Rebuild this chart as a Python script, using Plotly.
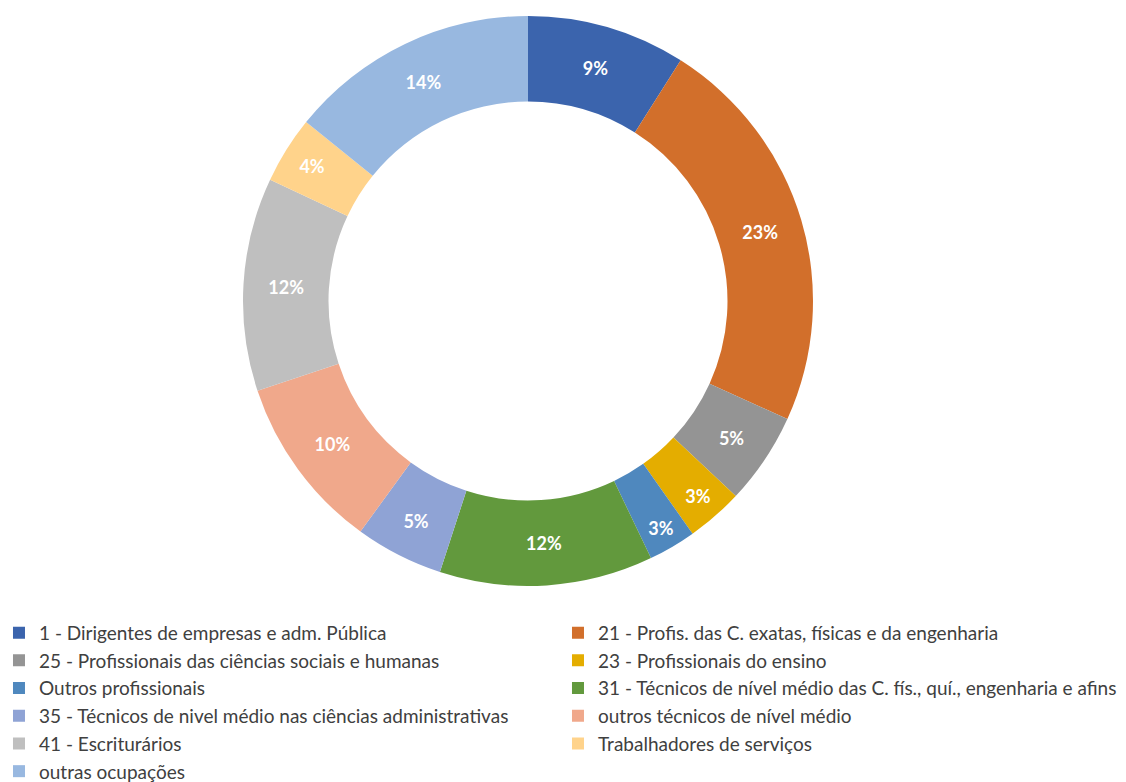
import plotly.graph_objects as go

labels = [
    "1 - Dirigentes de empresas e adm. Pública",
    "21 - Profis. das C. exatas, físicas e da engenharia",
    "25 - Profissionais das ciências sociais e humanas",
    "23 - Profissionais do ensino",
    "Outros profissionais",
    "31 - Técnicos de nível médio das C. fís., quí., engenharia e afins",
    "35 - Técnicos de nivel médio nas ciências administrativas",
    "outros técnicos de nível médio",
    "41 - Escriturários",
    "Trabalhadores de serviços",
    "outras ocupações",
]
values = [9.0, 22.8, 5.2, 3.2, 2.7, 12.1, 5.0, 9.9, 12.1, 3.8, 14.2]
colors = ["#3B64AD", "#D26F2B", "#949494", "#E4AD00", "#4F88BE", "#62993D",
          "#8FA3D5", "#F0A88B", "#BFBFBF", "#FFD38B", "#98B8E0"]

W, H = 1126, 782
MB = 178
PH = H - MB
cx, cy, r = 520, 293, 285

fig = go.Figure(go.Pie(
    labels=labels,
    values=values,
    sort=False,
    direction="clockwise",
    rotation=0,
    hole=0.70,
    marker=dict(colors=colors, line=dict(width=0)),
    texttemplate="%{percent:.0%}",
    textposition="inside",
    insidetextorientation="horizontal",
    textfont=dict(family="Lato", size=18, color="white", weight="bold"),
    domain=dict(x=[(cx - r) / W, (cx + r) / W], y=[(PH - cy - r) / PH, (PH - cy + r) / PH]),
))

fig.update_layout(
    width=W, height=H,
    margin=dict(l=0, r=0, t=0, b=MB, autoexpand=False),
    paper_bgcolor="white",
    uniformtext=dict(minsize=18, mode="show"),
    legend=dict(
        orientation="h",
        x=-0.008, y=-0.003,
        xanchor="left", yanchor="top",
        entrywidth=514, entrywidthmode="pixels",
        font=dict(family="Lato", size=19, color="#404040"),
        itemwidth=30,
        tracegroupgap=0,
    ),
)

fig.write_html("out.html")
